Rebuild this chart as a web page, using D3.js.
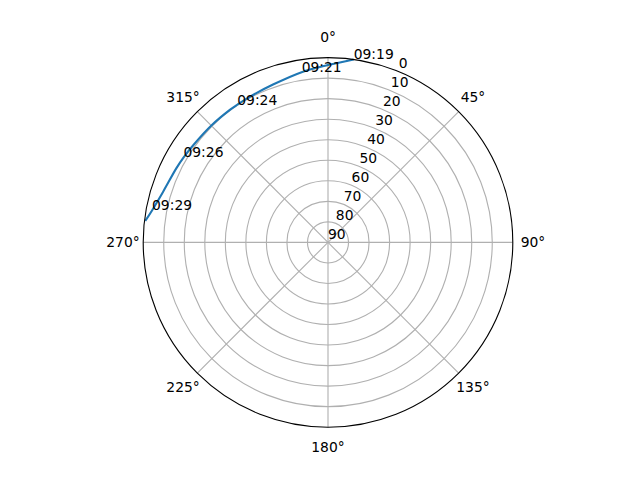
<!DOCTYPE html>
<html><head><meta charset="utf-8">
<script src="https://cdn.jsdelivr.net/npm/d3@7"></script>
<style>body{margin:0;background:#fff}svg{display:block}</style>
</head><body><svg id="c" width="640" height="480"></svg>
<script>
// Satellite pass: azimuth (deg, clockwise from north) and elevation (deg)
const trackAz = [8, 0, 351.2, 340.8, 331.7, 326.6, 323.6, 315.3, 305.9, 300.5, 296.1, 287.1, 280.3, 276.7];
const trackEl = [0, 3.6, 6.1, 8.6, 9.5, 9.7, 9.7, 9.6, 9.1, 8.4, 7.8, 6.0, 2.9, 0.4];
const labelTimes = ["09:19", "09:21", "09:24", "09:26", "09:29"];
const labelAz = [8, 351.2, 326.6, 300.5, 280.3];
const labelEl = [0, 6.1, 9.7, 8.3, 2.9];
const thetaTicks = [0, 45, 90, 135, 180, 225, 270, 315];
const rTicks = [0, 10, 20, 30, 40, 50, 60, 70, 80, 90];

const W = 640, H = 480;
const cx = 328, cy = 242.4, R = 184.8;
const fs = 13.89;
const font = "'DejaVu Sans', sans-serif";

const svg = d3.select("#c");
svg.append("rect").attr("width", W).attr("height", H).attr("fill", "#fff");
const g = svg.append("g").attr("transform", `translate(${cx},${cy})`);

const r = d3.scaleLinear().domain([90, 0]).range([0, R]);
const ang = d3.scaleLinear().domain([0, 360]).range([0, 2 * Math.PI]);
const unwrap = a => (a > 180 ? a - 360 : a);
const px = (a, rr) => rr * Math.sin(ang(a));
const py = (a, rr) => -rr * Math.cos(ang(a));

// grid rings
g.selectAll("circle.ring").data(rTicks.filter(d => d < 90 && d > 0)).enter()
  .append("circle").attr("class", "ring")
  .attr("r", d => r(d)).attr("fill", "none")
  .attr("stroke", "#b0b0b0").attr("stroke-width", 1.11);

// spokes
g.selectAll("line.spoke").data(thetaTicks).enter()
  .append("line").attr("class", "spoke")
  .attr("x1", 0).attr("y1", 0)
  .attr("x2", d => px(d, R)).attr("y2", d => py(d, R))
  .attr("stroke", "#b0b0b0").attr("stroke-width", 1.11);

// track
const pts = trackAz.map((a, i) => [ang(unwrap(a)), r(trackEl[i])]);
const line = d3.lineRadial().angle(d => d[0]).radius(d => d[1]).curve(d3.curveCatmullRom.alpha(0.5));
g.append("path").attr("d", line(pts)).attr("fill", "none")
  .attr("stroke", "#1f77b4").attr("stroke-width", 2.08)
  .attr("stroke-linecap", "butt").attr("stroke-linejoin", "round");

// spine
g.append("circle").attr("r", R).attr("fill", "none")
  .attr("stroke", "#000").attr("stroke-width", 1.11);

// theta labels
g.selectAll("text.theta").data(thetaTicks).enter()
  .append("text").attr("class", "theta")
  .attr("x", d => px(d, 205))
  .attr("y", d => py(d, 205) + 0.36 * fs)
  .attr("text-anchor", "middle")
  .attr("font-family", font).attr("font-size", fs).attr("fill", "#000")
  .text(d => d + "\u00b0");

// r labels at 22.5°
g.selectAll("text.rlab").data(rTicks).enter()
  .append("text").attr("class", "rlab")
  .attr("x", d => px(22.5, r(d)))
  .attr("y", d => py(22.5, r(d)) - 0.236 * fs)
  .attr("text-anchor", "start")
  .attr("font-family", font).attr("font-size", fs).attr("fill", "#000")
  .text(d => d);

// time labels
g.selectAll("text.time").data(labelTimes).enter()
  .append("text").attr("class", "time")
  .attr("x", (d, i) => px(labelAz[i], r(labelEl[i])))
  .attr("y", (d, i) => py(labelAz[i], r(labelEl[i])))
  .attr("text-anchor", "start")
  .attr("font-family", font).attr("font-size", fs).attr("fill", "#000")
  .text(d => d);
</script></body></html>
